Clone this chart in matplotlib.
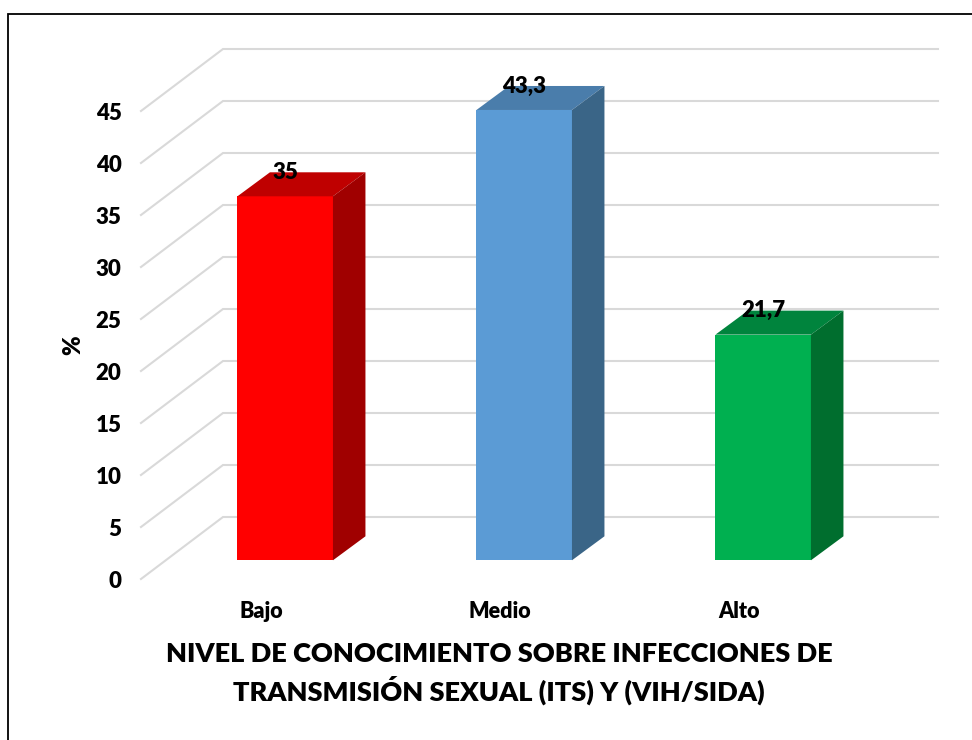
import matplotlib
matplotlib.use("Agg")
import matplotlib.pyplot as plt
from matplotlib.lines import Line2D
from matplotlib.patches import Polygon

categories = ["Bajo", "Medio", "Alto"]
values = [35, 43.3, 21.7]
value_labels = ["35", "43,3", "21,7"]
y_ticks = [0, 5, 10, 15, 20, 25, 30, 35, 40, 45]
x_title = "NIVEL DE CONOCIMIENTO SOBRE INFECCIONES DE\nTRANSMISIÓN SEXUAL (ITS) Y (VIH/SIDA)"
y_title = "%"

front_colors = ["#FF0000", "#5B9BD5", "#00B050"]
top_colors = ["#BF0000", "#4A7DAB", "#00843D"]
side_colors = ["#A00000", "#3A6587", "#006E2E"]

W, H = 972, 740
PX_X = 239.0    # pixels per category step
PX_Y = 10.4     # pixels per % unit
X0 = 261.0      # pixel of first category on the front plane
Y0 = 579.0      # pixel of value 0 on the front plane
LEFT, RIGHT, TOP = 141.0, 938.0, 49.0
WEIGHT = 800


def dx(px):
    return px / PX_X


def dy(px):
    return px / PX_Y


plt.rcParams["font.family"] = ["Lato", "DejaVu Sans"]
plt.rcParams["font.weight"] = WEIGHT

fig = plt.figure(figsize=(W / 100, H / 100), dpi=100, facecolor="white")
ax = fig.add_axes([LEFT / W, 1 - Y0 / H, (RIGHT - LEFT) / W, (Y0 - TOP) / H])
ax.set_xlim((LEFT - X0) / PX_X, (RIGHT - X0) / PX_X)
ax.set_ylim(0, (Y0 - TOP) / PX_Y)
for s in ax.spines.values():
    s.set_visible(False)
ax.patch.set_alpha(0)

# Depth vectors (pixels converted to data units)
wall_dx, wall_dy = dx(82), dy(62)
floor_dx, floor_dy = dx(24.2), dy(18.7)
bar_dx, bar_dy = dx(32.5), dy(24)
bar_w = dx(95.5)

grid_c = "#D9D9D9"
x_left = ax.get_xlim()[0]
x_right = ax.get_xlim()[1]
for t in y_ticks:
    ax.plot([x_left, x_left + wall_dx, x_right], [t, t + wall_dy, t + wall_dy],
            color=grid_c, lw=1.5, zorder=1, solid_joinstyle="miter", clip_on=False)

xs = list(range(len(categories)))
for i, v in enumerate(values):
    xc = xs[i] + floor_dx
    x1, x2 = xc - bar_w / 2, xc + bar_w / 2
    y1, y2 = floor_dy, floor_dy + v
    ax.bar(xc, v, width=bar_w, bottom=floor_dy, color=front_colors[i], zorder=3, linewidth=0)
    ax.add_patch(Polygon([(x1, y2), (x2, y2), (x2 + bar_dx, y2 + bar_dy), (x1 + bar_dx, y2 + bar_dy)],
                         closed=True, facecolor=top_colors[i], edgecolor="none", zorder=3))
    ax.add_patch(Polygon([(x2, y1), (x2 + bar_dx, y1 + bar_dy), (x2 + bar_dx, y2 + bar_dy), (x2, y2)],
                         closed=True, facecolor=side_colors[i], edgecolor="none", zorder=3))
    ax.text(xc, y2 + bar_dy, value_labels[i], ha="center", va="center",
            fontsize=16, fontweight=WEIGHT, color="black", zorder=5)

ax.set_xticks(xs)
ax.set_xticklabels(categories, fontsize=15.5, fontweight=WEIGHT)
ax.set_yticks(y_ticks)
ax.set_yticklabels([str(t) for t in y_ticks], fontsize=16, fontweight=WEIGHT)
ax.tick_params(axis="both", length=0)
ax.tick_params(axis="y", pad=14)
ax.tick_params(axis="x", pad=15.5)

ax.set_ylabel(y_title, fontsize=17, fontweight=WEIGHT)
ax.yaxis.set_label_coords((84 - LEFT) / (RIGHT - LEFT), (Y0 - 345) / (Y0 - TOP))
ax.set_xlabel(x_title, fontsize=19.5, fontweight=WEIGHT, linespacing=1.42)
ax.xaxis.set_label_coords((499 - LEFT) / (RIGHT - LEFT), (Y0 - 641.5) / (Y0 - TOP))
ax.xaxis.label.set_verticalalignment("top")

fig.add_artist(Line2D([8 / W, 8 / W, 1], [0, 1 - 13.5 / H, 1 - 13.5 / H],
                      color="black", lw=1.3, transform=fig.transFigure, solid_joinstyle="miter"))

fig.savefig("out.png", dpi=100)
